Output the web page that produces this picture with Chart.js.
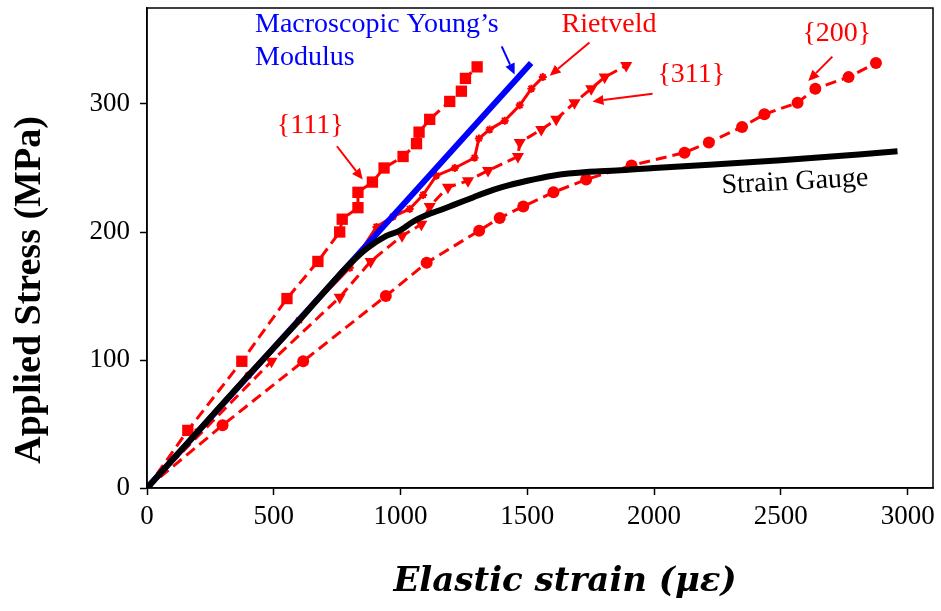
<!DOCTYPE html>
<html>
<head>
<meta charset="utf-8">
<script src="https://cdn.jsdelivr.net/npm/chart.js@4"></script>
<style>
  body { margin: 0; background: #fff; }
  #wrap { width: 941px; height: 611px; }
</style>
</head>
<body>
<div id="wrap"><canvas id="myChart"></canvas></div>
<script>
// ---- data (strain in microstrain, stress in MPa) ----
const gaugeX = [0, 200, 400, 600, 734, 800, 866, 944, 997, 1049, 1100, 1168, 1207, 1286, 1338, 1400, 1500, 1600, 1745, 1851, 2000, 2500, 2960];
const gaugeY = [0, 44, 88, 131, 161, 175, 187, 197, 201, 208, 213, 218, 221, 227, 231, 235, 240, 244, 247, 248, 250, 256, 263];

const youngX = [0, 1515];
const youngY = [0, 332];

const rietX = [0, 200, 400, 600, 800, 905, 970, 1036, 1089, 1141, 1214, 1292, 1309, 1351, 1411, 1470, 1516, 1561];
const rietY = [0, 44, 88, 131, 172, 204, 212, 218, 229, 244, 250, 258, 273, 280, 287, 299, 312, 321];

const s111X = [0, 161, 374, 552, 674, 760, 770, 832, 832, 889, 935, 1010, 1063, 1073, 1115, 1194, 1240, 1256, 1302];
const s111Y = [0, 45, 99, 148, 177, 200, 210, 219, 231, 239, 250, 259, 269, 278, 288, 302, 310, 320, 329];

const s311X = [0, 491, 760, 882, 1006, 1082, 1115, 1187, 1266, 1345, 1463, 1470, 1555, 1614, 1686, 1752, 1805, 1890];
const s311Y = [0, 99, 149, 177, 197, 206, 220, 235, 240, 248, 259, 270, 280, 288, 301, 312, 321, 330];

const s200X = [0, 298, 616, 942, 1103, 1310, 1391, 1484, 1603, 1732, 1911, 2120, 2216, 2347, 2435, 2566, 2636, 2767, 2875];
const s200Y = [0, 49, 99, 150, 176, 201, 211, 220, 231, 241, 252, 262, 270, 282, 292, 301, 312, 321, 332];

const xTicks = [0, 500, 1000, 1500, 2000, 2500, 3000];
const yTicks = [0, 100, 200, 300];

// ---- text labels + arrows (data coordinates) ----
const notes = [
  { text: 'Macroscopic Young\u2019s', x: 426, y: 362, color: 'blue' },
  { text: 'Modulus', x: 426, y: 336, color: 'blue' },
  { text: 'Rietveld', x: 1635, y: 362, color: 'red' },
  { text: '{200}', x: 2585, y: 355, color: 'red' },
  { text: '{311}', x: 2013, y: 323, color: 'red' },
  { text: '{111}', x: 512, y: 283, color: 'red' },
  { text: 'Strain Gauge', x: 2266, y: 236, color: 'black', rot: -3 }
];
const arrows = [
  { from: [1399, 345], to: [1450, 323], color: 'blue' },
  { from: [1745, 348], to: [1588, 322], color: 'red' },
  { from: [1994, 308], to: [1757, 302], color: 'red' },
  { from: [2703, 337], to: [2608, 318], color: 'red' },
  { from: [749, 267], to: [851, 241], color: 'red' }
];

const toPts = (xs, ys) => xs.map((v, i) => ({ x: v, y: ys[i] }));
const serif = '"Liberation Serif", "Times New Roman", serif';

//그림 위 글자, 화살표, 테두리, 축 제목
const notePlugin = {
  id: 'notes',
  afterDatasetsDraw(chart) {
    const { ctx, chartArea: a, scales: { x, y } } = chart;
    ctx.save();
    ctx.strokeStyle = 'black';
    ctx.lineWidth = 1.5;
    ctx.strokeRect(a.left, a.top, a.right - a.left, a.bottom - a.top);

    // 축 제목 (원본은 축 중앙에서 조금 벗어나 있음)
    ctx.fillStyle = 'black';
    ctx.textAlign = 'center';
    ctx.textBaseline = 'middle';
    ctx.save();
    ctx.translate(30, 290);
    ctx.rotate(-Math.PI / 2);
    ctx.font = 'bold 38px ' + serif;
    ctx.fillText('Applied Stress (MPa)', 0, 0);
    ctx.restore();
    ctx.font = 'italic bold 34px "DejaVu Serif", serif';
    ctx.fillText('Elastic strain (\u03bc\u03b5)', 565, 582);

    ctx.font = '28px ' + serif;
    ctx.textAlign = 'left';
    notes.forEach(n => {
      ctx.save();
      ctx.fillStyle = n.color;
      ctx.translate(x.getPixelForValue(n.x), y.getPixelForValue(n.y));
      if (n.rot) ctx.rotate(n.rot * Math.PI / 180);
      ctx.fillText(n.text, 0, 0);
      ctx.restore();
    });

    arrows.forEach(ar => {
      const x0 = x.getPixelForValue(ar.from[0]), y0 = y.getPixelForValue(ar.from[1]);
      const x1 = x.getPixelForValue(ar.to[0]), y1 = y.getPixelForValue(ar.to[1]);
      const ang = Math.atan2(y1 - y0, x1 - x0);
      const hl = 11, hw = 5;
      ctx.strokeStyle = ar.color;
      ctx.fillStyle = ar.color;
      ctx.lineWidth = 2;
      ctx.beginPath();
      ctx.moveTo(x0, y0);
      ctx.lineTo(x1 - hl * Math.cos(ang), y1 - hl * Math.sin(ang));
      ctx.stroke();
      ctx.beginPath();
      ctx.moveTo(x1, y1);
      ctx.lineTo(x1 - hl * Math.cos(ang) + hw * Math.sin(ang), y1 - hl * Math.sin(ang) - hw * Math.cos(ang));
      ctx.lineTo(x1 - hl * Math.cos(ang) - hw * Math.sin(ang), y1 - hl * Math.sin(ang) + hw * Math.cos(ang));
      ctx.closePath();
      ctx.fill();
    });
    ctx.restore();
  }
};

const ctx = document.getElementById('myChart');

new Chart(ctx, {
  type: 'line',
  data: {
    datasets: [
      { // 맨 위에 그려짐
        label: 'Strain Gauge',
        data: toPts(gaugeX, gaugeY),
        borderColor: 'black',
        borderWidth: 6,
        pointRadius: 0,
        cubicInterpolationMode: 'monotone'
      },
      {
        label: 'Macroscopic Young\u2019s Modulus',
        data: toPts(youngX, youngY),
        borderColor: 'blue',
        borderWidth: 6,
        pointRadius: 0
      },
      {
        label: 'Rietveld',
        data: toPts(rietX, rietY),
        borderColor: 'red',
        backgroundColor: 'red',
        borderWidth: 3,
        pointStyle: 'star',
        pointRadius: 4,
        pointBorderWidth: 2
      },
      {
        label: '{111}',
        data: toPts(s111X, s111Y),
        borderColor: 'red',
        backgroundColor: 'red',
        borderWidth: 3,
        borderDash: [11, 6],
        pointStyle: 'rect',
        pointRadius: 8,
        pointBorderWidth: 0
      },
      {
        label: '{311}',
        data: toPts(s311X, s311Y),
        borderColor: 'red',
        backgroundColor: 'red',
        borderWidth: 3,
        borderDash: [11, 6],
        pointStyle: 'triangle',
        rotation: 180,
        pointRadius: 7,
        pointBorderWidth: 0
      },
      {
        label: '{200}',
        data: toPts(s200X, s200Y),
        borderColor: 'red',
        backgroundColor: 'red',
        borderWidth: 3,
        borderDash: [11, 6],
        pointStyle: 'circle',
        pointRadius: 6,
        pointBorderWidth: 0
      }
    ]
  },
  options: {
    responsive: true,
    maintainAspectRatio: false,
    animation: false,
    layout: { padding: { top: 8, right: 6, left: 0, bottom: 0 } },
    plugins: { legend: { display: false }, tooltip: { enabled: false } },
    scales: {
      x: {
        type: 'linear',
        min: 0,
        max: 3100,
        afterFit: (s) => { s.height = 123; s.paddingLeft = 0; s.paddingRight = 0; },
        afterBuildTicks: (s) => { s.ticks = xTicks.map(v => ({ value: v })); },
        ticks: { color: 'black', padding: 6, font: { family: serif, size: 27 }, maxRotation: 0, callback: (v) => String(v) },
        grid: { display: true, drawOnChartArea: false, drawTicks: true, tickLength: 7, color: 'black', tickWidth: 1.5 },
        border: { display: true, color: 'black', width: 1.5 },
        title: { display: false }
      },
      y: {
        type: 'linear',
        min: 0,
        max: 375,
        afterFit: (s) => { s.width = 147; s.paddingTop = 0; s.paddingBottom = 0; },
        afterBuildTicks: (s) => { s.ticks = yTicks.map(v => ({ value: v })); },
        ticks: { color: 'black', padding: 10, font: { family: serif, size: 27 }, callback: (v) => String(v) },
        grid: { display: true, drawOnChartArea: false, drawTicks: true, tickLength: 7, color: 'black', tickWidth: 1.5 },
        border: { display: true, color: 'black', width: 1.5 },
        title: { display: false }
      }
    }
  },
  plugins: [notePlugin]
});
</script>
</body>
</html>
